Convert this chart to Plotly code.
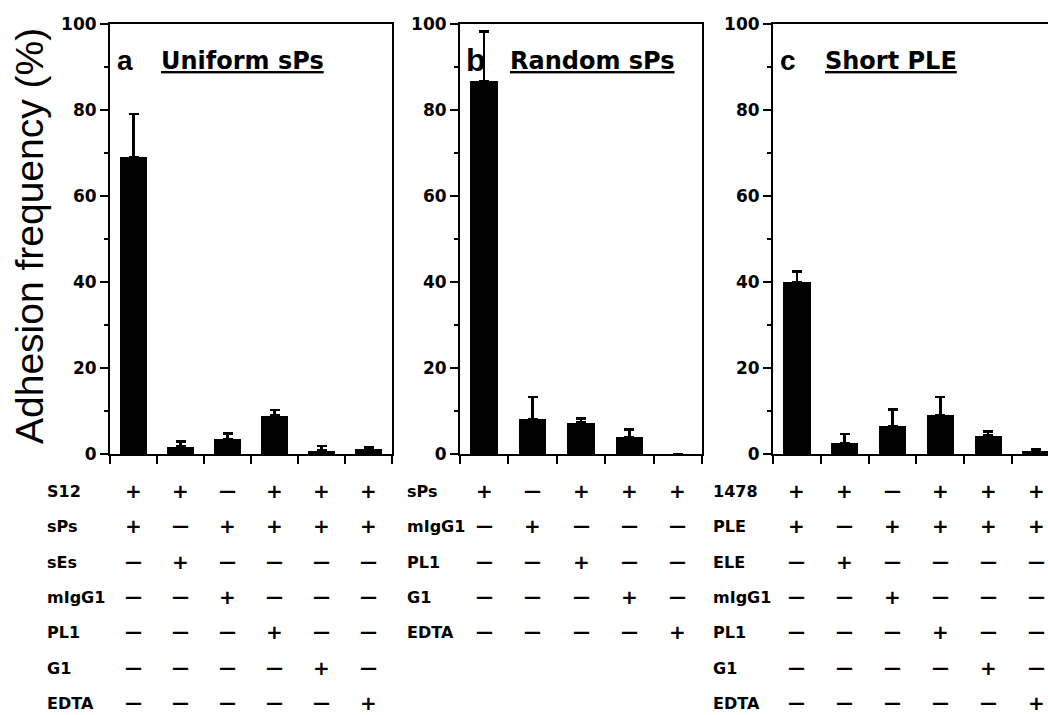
import plotly.graph_objects as go

W, H = 1048, 715

# ---------------- data ----------------
vals_a = [69.1, 1.7, 3.5, 8.9, 0.8, 1.2]
err_a = [10.0, 1.2, 1.3, 1.3, 1.1, 0.3]
vals_b = [86.7, 8.1, 7.3, 4.0, 0.0]
err_b = [11.5, 5.2, 1.0, 1.7, 0.0]
vals_c = [39.9, 2.5, 6.4, 9.1, 4.3, 0.7]
err_c = [2.5, 2.1, 4.0, 4.2, 0.9, 0.3]

titles = ["Uniform sPs", "Random sPs", "Short PLE"]
panel_letters = ["a", "b", "c"]
y_ticks = [0, 20, 40, 60, 80, 100]
y_minor = [10, 30, 50, 70, 90]

rows_a_labels = ["S12", "sPs", "sEs", "mIgG1", "PL1", "G1", "EDTA"]
rows_a = ["++-+++", "+-++++", "-+----", "--+---", "---+--", "----+-", "-----+"]
rows_b_labels = ["sPs", "mIgG1", "PL1", "G1", "EDTA"]
rows_b = ["+-+++", "-+---", "--+--", "---+-", "----+"]
rows_c_labels = ["1478", "PLE", "ELE", "mIgG1", "PL1", "G1", "EDTA"]
rows_c = ["++-+++", "+-++++", "-+----", "--+---", "---+--", "----+-", "-----+"]

# ---------------- layout helpers (pixels -> paper) ----------------
def px(x):
    return x / W

def py(y):
    return 1 - y / H

Y0, Y100 = 454, 24
panels = [
    dict(vals=vals_a, err=err_a, dom=(110, 392), rng=(-0.5, 5.5), mirror_y=True,
         labels=rows_a_labels, rows=rows_a, label_x=45, letter_x=115, title_x=159, letter_size=28),
    dict(vals=vals_b, err=err_b, dom=(460, 702), rng=(-0.5, 4.5), mirror_y=True,
         labels=rows_b_labels, rows=rows_b, label_x=405, letter_x=464, title_x=508, letter_size=32),
    dict(vals=vals_c, err=err_c, dom=(773, 1048), rng=(-0.5, 5.25), mirror_y=False,
         labels=rows_c_labels, rows=rows_c, label_x=711, letter_x=778, title_x=823, letter_size=28),
]
row_y = [491, 526, 562, 597, 632, 668, 703]

BOLD = "DejaVu Sans"
fig = go.Figure()
annotations = []

for i, p in enumerate(panels):
    n = len(p["vals"])
    xa = "x" if i == 0 else f"x{i+1}"
    ya = "y" if i == 0 else f"y{i+1}"
    fig.add_trace(go.Bar(
        x=list(range(n)), y=p["vals"], width=0.57,
        marker=dict(color="black", line=dict(width=0)),
        error_y=dict(type="data", array=p["err"], arrayminus=[0] * n, symmetric=False,
                     color="black", thickness=2.5, width=5),
        xaxis=xa, yaxis=ya, showlegend=False, hoverinfo="skip",
    ))
    xkey = "xaxis" if i == 0 else f"xaxis{i+1}"
    ykey = "yaxis" if i == 0 else f"yaxis{i+1}"
    fig.layout[xkey] = dict(
        domain=[px(p["dom"][0]), px(p["dom"][1])], range=list(p["rng"]),
        tickvals=[k - 0.5 for k in range(n + 1)], showticklabels=False,
        ticks="outside", ticklen=8, tickwidth=2, tickcolor="black",
        showline=True, linewidth=2, linecolor="black", mirror=True,
        showgrid=False, zeroline=False, anchor=ya, fixedrange=True,
    )
    fig.layout[ykey] = dict(
        domain=[py(Y0), py(Y100)], range=[0, 100], tickvals=y_ticks,
        ticks="outside", ticklen=8, tickwidth=2, tickcolor="black",
        minor=dict(tickvals=y_minor, ticks="outside", ticklen=4, tickwidth=2, tickcolor="black"),
        tickfont=dict(family=BOLD, size=17, color="black", weight="bold"),
        showline=True, linewidth=2, linecolor="black", mirror=p["mirror_y"],
        showgrid=False, zeroline=False, anchor=xa, fixedrange=True,
    )
    # panel letter and title
    annotations.append(dict(
        x=px(p["letter_x"]), y=py(60), xref="paper", yref="paper", xanchor="left", yanchor="middle",
        text="<b>" + panel_letters[i] + "</b>", showarrow=False,
        font=dict(family="Liberation Sans, Arial", size=p["letter_size"], color="black"),
    ))
    annotations.append(dict(
        x=px(p["title_x"]), y=py(61), xref="paper", yref="paper", xanchor="left", yanchor="middle",
        text="<b><u>" + titles[i] + "</u></b>", showarrow=False,
        font=dict(family=BOLD, size=24, color="black"),
    ))
    # condition table
    for r, (lab, syms) in enumerate(zip(p["labels"], p["rows"])):
        annotations.append(dict(
            x=px(p["label_x"]), y=py(row_y[r]), xref="paper", yref="paper",
            xanchor="left", yanchor="middle", text="<b>" + lab + "</b>", showarrow=False,
            font=dict(family=BOLD, size=16, color="black"),
        ))
        for j, s in enumerate(syms):
            plus = s == "+"
            annotations.append(dict(
                x=j, y=py(row_y[r]), xref=xa, yref="paper",
                xanchor="center", yanchor="middle",
                text="<b>+</b>" if plus else "<b>—</b>", showarrow=False,
                font=dict(family=BOLD, size=20 if plus else 17, color="black"),
            ))

# y-axis title
annotations.append(dict(
    x=px(29), y=py(236), xref="paper", yref="paper", xanchor="center", yanchor="middle",
    text="Adhesion frequency (%)", textangle=-90, showarrow=False,
    font=dict(family="Liberation Sans, Arial", size=39, color="black"),
))

fig.update_layout(
    width=W, height=H, template="none",
    margin=dict(l=0, r=0, t=0, b=0),
    paper_bgcolor="white", plot_bgcolor="white",
    font=dict(family=BOLD, color="black"),
    annotations=annotations, bargap=0,
)

fig.write_html(
    "out.html",
    config={"displayModeBar": False},
    post_script="document.body.style.margin='0';document.body.style.overflow='hidden';",
)
